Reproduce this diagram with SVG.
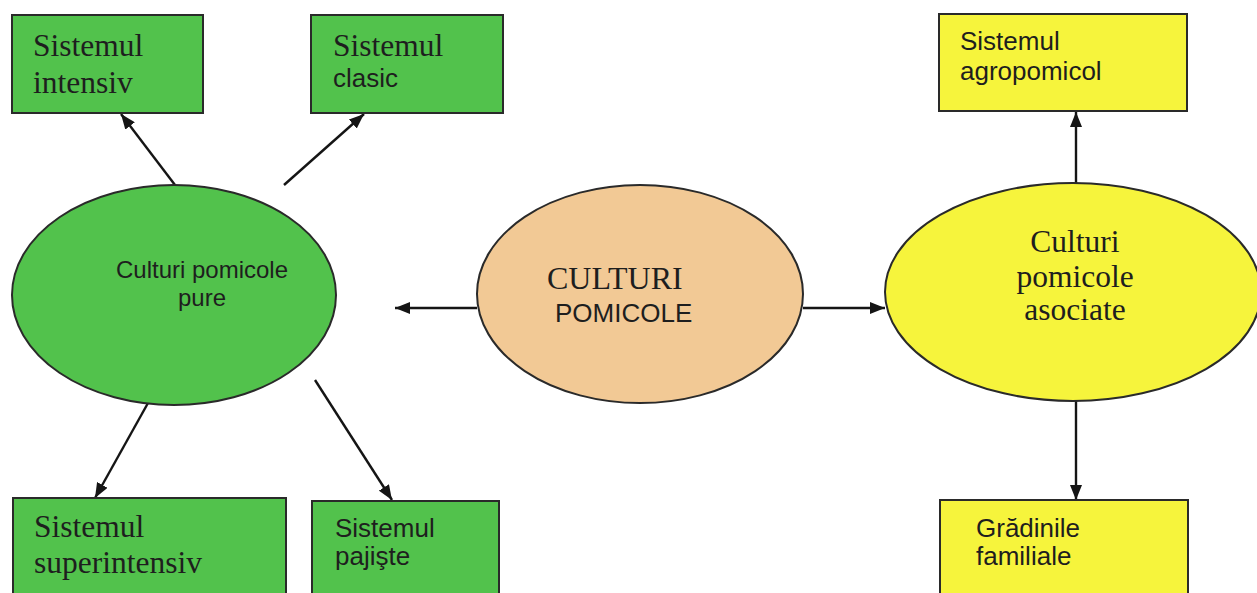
<svg xmlns="http://www.w3.org/2000/svg" width="1257" height="593" viewBox="0 0 1257 593">
<defs>
<marker id="arr" viewBox="0 0 15 12" refX="15" refY="6" markerWidth="15" markerHeight="12" markerUnits="userSpaceOnUse" orient="auto">
<path d="M0,0 L15,6 L0,12 Z" fill="#151515"/>
</marker>
<style>
.g{fill:#52c24c;stroke:#2a2a2a;stroke-width:2}
.y{fill:#f6f43c;stroke:#2a2a2a;stroke-width:2}
.t{fill:#f2c995;stroke:#2a2a2a;stroke-width:2}
.serif{font-family:"Liberation Serif","Times New Roman",serif;fill:#1e1e1e}
.sans{font-family:"Liberation Sans",Arial,sans-serif;fill:#1e1e1e}
.c{fill:none;stroke:#151515;stroke-width:2.4;marker-end:url(#arr)}
</style>
</defs>
<rect width="1257" height="593" fill="#ffffff"/>
<g id="connectors">
<line class="c" x1="477" y1="308" x2="395" y2="308"/>
<line class="c" x1="803" y1="308" x2="885" y2="308"/>
<line class="c" x1="175" y1="185" x2="121" y2="114"/>
<line class="c" x1="284" y1="185" x2="364" y2="114"/>
<line class="c" x1="1076" y1="183" x2="1076" y2="112"/>
<line class="c" x1="148" y1="403" x2="95" y2="498"/>
<line class="c" x1="315" y1="380" x2="392" y2="500"/>
<line class="c" x1="1076" y1="401" x2="1076" y2="500"/>
</g>
<g id="n-intensiv">
<rect class="g" x="12" y="15" width="191" height="98"/>
<text class="serif" font-size="31.5" x="33" y="56">Sistemul</text>
<text class="serif" font-size="31.5" x="33" y="93">intensiv</text>
</g>
<g id="n-clasic">
<rect class="g" x="311" y="15" width="192" height="98"/>
<text class="serif" font-size="31.5" x="333" y="56">Sistemul</text>
<text class="sans" font-size="26" x="333" y="87">clasic</text>
</g>
<g id="n-agropomicol">
<rect class="y" x="939" y="14" width="248" height="97"/>
<text class="sans" font-size="26" x="960" y="50">Sistemul</text>
<text class="sans" font-size="26" x="960" y="80">agropomicol</text>
</g>
<g id="n-superintensiv">
<rect class="g" x="13" y="498" width="273" height="110"/>
<text class="serif" font-size="31.5" x="34" y="537">Sistemul</text>
<text class="serif" font-size="31.5" x="34" y="573">superintensiv</text>
</g>
<g id="n-pajiste">
<rect class="g" x="312" y="501" width="187" height="110"/>
<text class="sans" font-size="26" x="335" y="537">Sistemul</text>
<text class="sans" font-size="26" x="335" y="565">pajişte</text>
</g>
<g id="n-gradinile">
<rect class="y" x="940" y="500" width="248" height="110"/>
<text class="sans" font-size="26" x="976" y="537">Grădinile</text>
<text class="sans" font-size="26" x="976" y="565">familiale</text>
</g>
<g id="n-pure">
<ellipse class="g" cx="174" cy="295" rx="162" ry="110"/>
<text class="sans" font-size="24" x="202" y="278" text-anchor="middle">Culturi pomicole</text>
<text class="sans" font-size="24" x="202" y="306" text-anchor="middle">pure</text>
</g>
<g id="n-center">
<ellipse class="t" cx="640" cy="294" rx="163" ry="109"/>
<text class="serif" font-size="32" x="547" y="289">CULTURI</text>
<text class="sans" font-size="26" x="555" y="322">POMICOLE</text>
</g>
<g id="n-asociate">
<ellipse class="y" cx="1073" cy="292" rx="188" ry="109"/>
<text class="serif" font-size="31.5" x="1075" y="252" text-anchor="middle">Culturi</text>
<text class="serif" font-size="31.5" x="1075" y="287" text-anchor="middle">pomicole</text>
<text class="serif" font-size="31.5" x="1075" y="320" text-anchor="middle">asociate</text>
</g>
</svg>
